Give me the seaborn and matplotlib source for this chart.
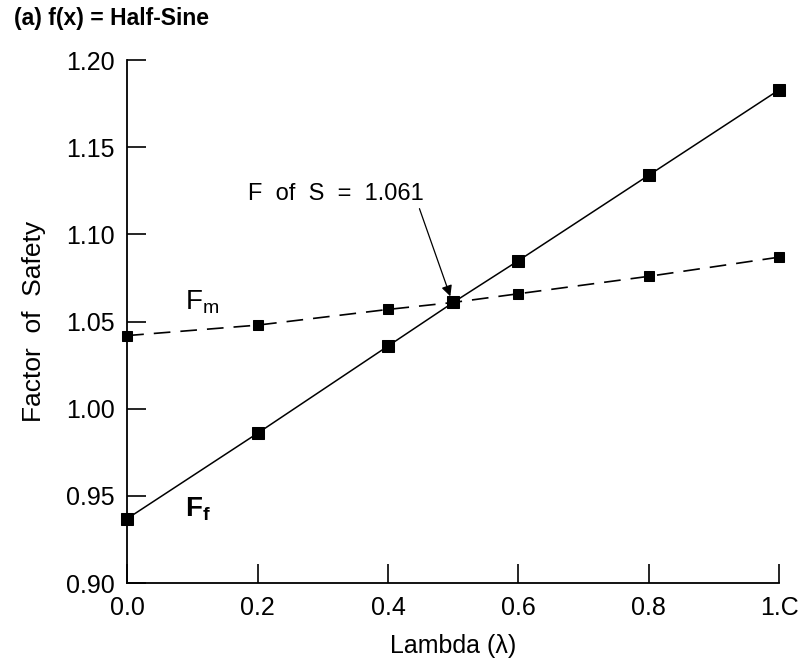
import pandas as pd
import matplotlib
matplotlib.use("Agg")
import matplotlib.pyplot as plt
import seaborn as sns

# values
lam = [0.0, 0.2, 0.4, 0.5, 0.6, 0.8, 1.0]
f_m = [1.042, 1.048, 1.057, 1.061, 1.066, 1.076, 1.087]
f_f = [0.937, 0.986, 1.036, 1.061, 1.085, 1.134, 1.183]
x_ticks = [0.0, 0.2, 0.4, 0.6, 0.8, 1.0]
x_tick_labels = ["0.0", "0.2", "0.4", "0.6", "0.8", "1.C"]
y_ticks = [0.90, 0.95, 1.00, 1.05, 1.10, 1.15, 1.20]

df_m = pd.DataFrame({"lambda": lam, "fos": f_m})
df_f = pd.DataFrame({"lambda": lam, "fos": f_f})

sns.set_style("ticks")
plt.rcParams["font.family"] = ["Liberation Sans", "DejaVu Sans"]
plt.rcParams["text.color"] = "black"
plt.rcParams["axes.labelcolor"] = "black"

fig = plt.figure(figsize=(8.05, 6.68), dpi=100)
ax = fig.add_axes([0.158, 0.127, 0.810, 0.783])

sns.lineplot(data=df_f, x="lambda", y="fos", ax=ax, color="black", lw=1.1,
             marker="s", markersize=8, markeredgecolor="black", clip_on=False)
sns.lineplot(data=df_m, x="lambda", y="fos", ax=ax, color="black", lw=1.2,
             marker="s", markersize=7.5, markeredgecolor="black",
             dashes=False, linestyle=(0, (10, 6)), clip_on=False)

ax.set_xlim(0, 1.0)
ax.set_ylim(0.90, 1.20)
ax.set_xticks(x_ticks)
ax.set_xticklabels(x_tick_labels)
ax.set_yticks(y_ticks)
ax.set_yticklabels([f"{v:.2f}" for v in y_ticks])
ax.tick_params(direction="in", length=14, width=1.2, labelsize=18, pad=9,
               colors="black")
for side in ["top", "right"]:
    ax.spines[side].set_visible(False)
for side in ["left", "bottom"]:
    ax.spines[side].set_linewidth(1.3)
    ax.spines[side].set_color("black")

ax.set_xlabel("Lambda (λ)", fontsize=18, labelpad=10)
ax.set_ylabel("Factor  of  Safety", fontsize=19, labelpad=14)

ax.text(0.088, 1.057, r"$\mathregular{F_m}$", fontsize=20)
ax.text(0.088, 0.938, r"$\mathregular{F_f}$", fontsize=20, fontweight="bold")

ax.annotate("F  of  S  =  1.061", xy=(0.497, 1.063), xytext=(0.185, 1.123),
            fontsize=17, va="center", ha="left",
            arrowprops=dict(arrowstyle="-|>", color="black", lw=0.9,
                            mutation_scale=16, shrinkA=0, shrinkB=2,
                            relpos=(0.97, 0.0)))

fig.text(0.018, 0.972, "(a) f(x) = Half-Sine", fontsize=16.5, fontweight="bold",
         va="center", ha="left")

fig.savefig("out.png", dpi=100)
